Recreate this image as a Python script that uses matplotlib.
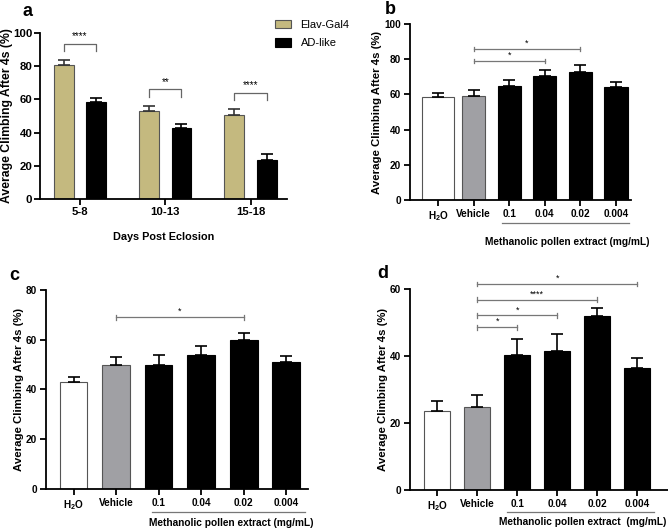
import numpy as np
import matplotlib
matplotlib.use("Agg")
import matplotlib.pyplot as plt

plt.rcParams['font.family'] = ['Liberation Sans', 'DejaVu Sans']
plt.rcParams['mathtext.fontset'] = 'custom'
plt.rcParams['mathtext.rm'] = 'Liberation Sans'
plt.rcParams['mathtext.bf'] = 'Liberation Sans:bold'

# panel a data
days = ['5-8', '10-13', '15-18']
elav_mean = [81, 53, 50.5]
elav_err = [2.5, 3, 4]
ad_mean = [58.5, 43, 23.5]
ad_err = [2.5, 2, 3.5]
sig_a = ['****', '**', '****']
sig_a_y = [93.5, 66, 64]

# panels b-d share categories
groups = [r'$\mathbf{H_2O}$', 'Vehicle', '0.1', '0.04', '0.02', '0.004']
b_mean = [58.5, 59, 65, 70.5, 73, 64.5]
b_err = [2.5, 3.8, 3.3, 3.3, 3.5, 2.5]
c_mean = [43, 50, 50, 54, 60, 51]
c_err = [2.2, 3.2, 4, 3.6, 2.5, 2.5]
d_mean = [23.5, 24.8, 40.2, 41.5, 52, 36.3]
d_err = [3.2, 3.5, 5, 5.1, 2.3, 3]

# (from, to, label, height)
sig_b = [(1, 4, '*', 86), (1, 3, '*', 79)]
sig_c = [(1, 4, '*', 69)]
sig_d = [(1, 5, '*', 61.5), (1, 4, '****', 56.8), (1, 3, '*', 52.1), (1, 2, '*', 48.6)]

tan = '#c4b97f'
bar_colors = ['white', '#a0a0a4', 'black', 'black', 'black', 'black']
bar_edges = ['#555555', '#555555', 'black', 'black', 'black', 'black']

fig = plt.figure(figsize=(6.68, 5.30), dpi=100)


def style_axes(ax, size, pad=2.5):
    for s in ['top', 'right']:
        ax.spines[s].set_visible(False)
    ax.spines['left'].set_linewidth(1.3)
    ax.spines['bottom'].set_linewidth(1.3)
    ax.tick_params(width=1.3, length=4, labelsize=size, pad=pad)
    for lab in ax.get_xticklabels() + ax.get_yticklabels():
        lab.set_fontweight('bold')


# ---- panel a
ax = fig.add_axes([0.0599, 0.6245, 0.370, 0.3132])
x = np.arange(len(days))
w = 0.234
ax.bar(x - 0.19, elav_mean, w, color=tan, edgecolor='#555555', linewidth=0.8, label='Elav-Gal4')
ax.errorbar(x - 0.19, elav_mean, yerr=[np.zeros(3), elav_err], fmt='none', ecolor='#333333',
            capsize=4, elinewidth=1.2, capthick=1.2)
ax.bar(x + 0.19, ad_mean, w, color='black', edgecolor='black', linewidth=0.8, label='AD-like')
ax.errorbar(x + 0.19, ad_mean, yerr=[np.zeros(3), ad_err], fmt='none', ecolor='black',
            capsize=4, elinewidth=1.2, capthick=1.2)
for i in range(3):
    y = sig_a_y[i]
    ax.plot([x[i] - 0.19, x[i] - 0.19, x[i] + 0.19, x[i] + 0.19], [y - 4.5, y, y, y - 4.5],
            color='#666666', lw=0.9)
    ax.text(x[i], y + 1.5, sig_a[i], ha='center', va='bottom', fontsize=7)
ax.set_xlim(-0.47, 2.43)
ax.set_ylim(0, 100)
ax.set_yticks([0, 20, 40, 60, 80, 100])
ax.set_xticks(x)
ax.set_xticklabels(days)
ax.set_ylabel('Average Climbing After 4s (%)', fontsize=8.8, fontweight='bold')
ax.yaxis.set_label_coords(-0.11, 0.5)
ax.set_xlabel('Days Post Eclosion', fontsize=7.8, fontweight='bold', labelpad=11)
style_axes(ax, 8.2, pad=1.5)
ax.legend(loc='upper left', bbox_to_anchor=(275 / 668, 1 - 20 / 530),
          bbox_transform=fig.transFigure, frameon=False, fontsize=8,
          borderpad=0, borderaxespad=0, handlelength=1.4, handleheight=0.75,
          handletextpad=0.9, labelspacing=0.75)


def dose_panel(rect, means, errs, sigs, ylim, yticks, xlim, widths, label_text,
               line_y, label_y, line_x):
    ax = fig.add_axes(rect)
    x = np.arange(len(groups))
    ax.bar(x, means, widths, color=bar_colors, edgecolor=bar_edges, linewidth=0.8)
    ax.errorbar(x, means, yerr=[np.zeros(len(means)), errs], fmt='none', ecolor='black',
                capsize=4, elinewidth=1.2, capthick=1.2)
    ax.set_xlim(*xlim)
    ax.set_ylim(*ylim)
    ax.set_yticks(yticks)
    ax.set_xticks(x)
    ax.set_xticklabels(groups)
    tick = (ylim[1] - ylim[0]) * 0.012
    for a, b, s, y in sigs:
        ax.plot([a, b], [y, y], color='#777777', lw=0.9, clip_on=False)
        ax.plot([a, a], [y - tick, y + tick], color='#777777', lw=0.9, clip_on=False)
        ax.plot([b, b], [y - tick, y + tick], color='#777777', lw=0.9, clip_on=False)
        ax.text((a + b) / 2, y + tick * 0.5, s, ha='center', va='bottom', fontsize=6.5)
    ax.set_ylabel('Average Climbing After 4s (%)', fontsize=8.2, fontweight='bold', labelpad=1.5)
    style_axes(ax, 7.2)
    # underline of the extract doses
    tr = ax.get_xaxis_transform()
    ax.plot(line_x, [line_y, line_y], color='#777777', lw=0.9, transform=tr, clip_on=False)
    ax.text(sum(line_x) / 2 + 0.05, label_y, label_text, ha='center', va='center', fontsize=7.3,
            fontweight='bold', transform=tr)
    return ax


wb = [0.9, 0.65, 0.65, 0.65, 0.65, 0.65]
w2 = [0.65] * 6
dose_panel([0.6138, 0.6226, 0.3308, 0.332], b_mean, b_err, sig_b, (0, 100),
           [0, 20, 40, 60, 80, 100], (-0.79, 5.42), wb,
           'Methanolic pollen extract (mg/mL)', -0.13, -0.24, [1.8, 5.35])
dose_panel([0.0689, 0.0774, 0.392, 0.3755], c_mean, c_err, sig_c, (0, 80),
           [0, 20, 40, 60, 80], (-0.65, 5.51), w2,
           'Methanolic pollen extract (mg/mL)', -0.115, -0.17, [1.85, 5.45])
dose_panel([0.6138, 0.0755, 0.386, 0.3792], d_mean, d_err, sig_d, (0, 60),
           [0, 20, 40, 60], (-0.68, 5.77), w2,
           'Methanolic pollen extract  (mg/mL)', -0.11, -0.16, [1.75, 5.43])

fig.text(22 / 668, 1 - 12 / 530, 'a', fontsize=13, fontweight='bold', va='center')
fig.text(385 / 668, 1 - 10 / 530, 'b', fontsize=13, fontweight='bold', va='center')
fig.text(9 / 668, 1 - 276 / 530, 'c', fontsize=13, fontweight='bold', va='center')
fig.text(377 / 668, 1 - 273 / 530, 'd', fontsize=13, fontweight='bold', va='center')

fig.savefig('out.png', dpi=100)
